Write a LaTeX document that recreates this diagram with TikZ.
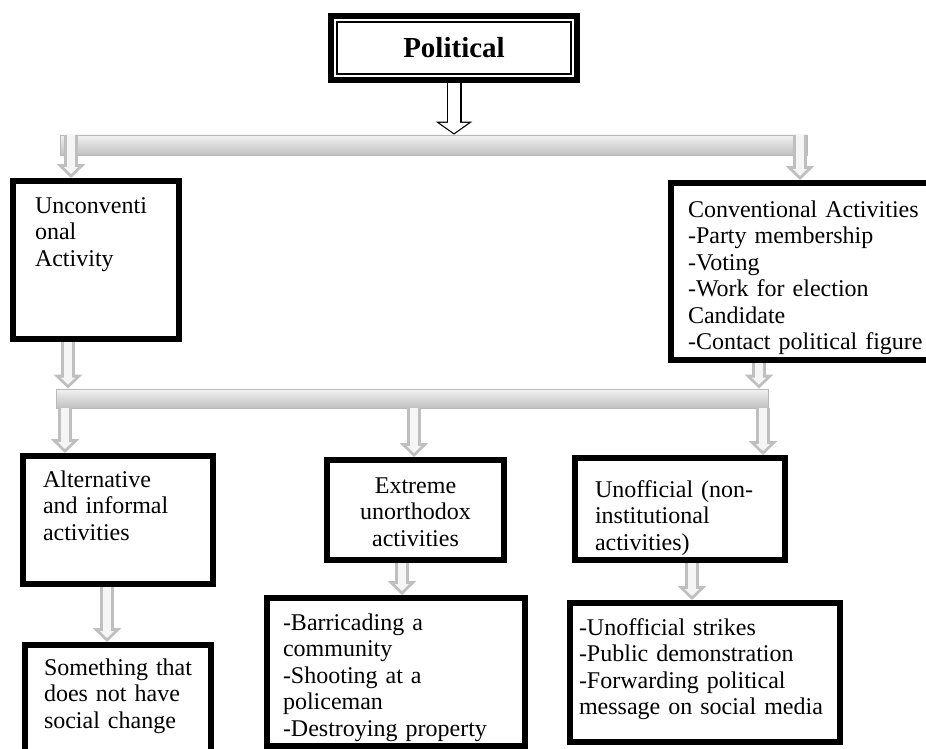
\documentclass[tikz,border=0pt]{standalone}
\usepackage{fontspec}
\setmainfont{Liberation Serif}
\usetikzlibrary{arrows.meta, positioning}

\begin{document}
\begin{tikzpicture}[x=1pt, y=-1pt]

	\tikzset{
		titlebox/.style={
				draw=black, fill=white, line width=1.5pt, inner sep=0pt, minimum width=234pt, minimum height=52pt,
				preaction={draw=black, line width=17.5pt}, preaction={draw=white, line width=5.5pt},
				font=\fontsize{29}{32}\selectfont\bfseries
			},
		box/.style={
				draw=black, fill=white, line width=6pt, anchor=north west, inner ysep=0pt, align=left,
				font=\fontsize{24}{26.5}\selectfont
			},
		bar/.style={
				draw=gray!55, line width=0.8pt, top color=gray!10, bottom color=gray!50, inner sep=0pt, minimum height=20pt
			},
		garrow/.style={
				line width=14pt, draw=gray!50, -{Triangle[length=14pt, width=28pt]},
				postaction={draw=gray!8, line width=8pt, shorten >=4pt, -{Triangle[length=7pt, width=14pt]}}
			},
		hollow/.style={
				line width=15pt, draw=black, -{Triangle[length=13pt, width=36pt]},
				postaction={draw=white, line width=12.6pt, shorten >=1.5pt, -{Triangle[length=10.3pt, width=28.5pt]}}
			},
	}

	\useasboundingbox (0,0) rectangle (926,749);

	\node[titlebox] (pol) at (454,48) {Political};

	\node[bar, minimum width=747pt] (b1) at (433.5,145) {};
	\node[bar, minimum width=712pt, minimum height=19pt] (b2) at (412,398.5) {};

	\node[box, text width=122pt, inner xsep=22pt, text height=32pt, text depth=126pt] (u1) at (10,178) {Unconventi\\onal\\Activity};
	\node[box, text width=240pt, inner xsep=17pt, text height=34pt, text depth=143pt] (c1) at (668,180) {Conventional Activities\\-Party membership\\-Voting\\-Work for election\\Candidate\\-Contact political figure};

	\node[box, text width=150pt, inner xsep=20pt, text height=31pt, text depth=97pt] (a1) at (20,453) {Alternative\\and informal\\activities};
	\node[box, align=center, text width=161pt, inner xsep=8pt, text height=33pt, text depth=67pt] (e1) at (324,457) {Extreme\\unorthodox\\activities};
	\node[box, text width=170pt, inner xsep=20pt, text height=39pt, text depth=63pt] (o1) at (572,455) {Unofficial (non-\\institutional\\activities)};

	\node[box, text width=148pt, inner xsep=19pt, text height=30pt, text depth=120pt] (s1) at (22,642) {Something that\\does not have\\social change};
	\node[box, text width=226pt, inner xsep=16pt, text height=32pt, text depth=116pt] (r1) at (264,595) {-Barricading a\\community\\-Shooting at a\\policeman\\-Destroying property};
	\node[box, text width=252pt, inner xsep=9pt, text height=32pt, text depth=107pt] (q1) at (567,600) {-Unofficial strikes\\-Public demonstration\\-Forwarding political\\message on social media};

	% x positions of the block arrows
	\coordinate (x1) at (71,0);
	\coordinate (x2) at (800,0);
	\coordinate (x3) at (68,0);
	\coordinate (x4) at (759,0);
	\coordinate (x5) at (65,0);
	\coordinate (x6) at (414,0);
	\coordinate (x7) at (763,0);
	\coordinate (x8) at (107,0);
	\coordinate (x9) at (402,0);
	\coordinate (x10) at (692,0);

	\draw[hollow] ([yshift=-8pt]pol.south) -- (pol.south |- b1.north);

	\draw[garrow] (x1 |- b1.north) -- (x1 |- u1.north);
	\draw[garrow] (x2 |- b1.north) -- (x2 |- c1.north);

	\draw[garrow] (x3 |- u1.south) -- (x3 |- b2.north);
	\draw[garrow] (x4 |- c1.south) -- (x4 |- b2.north);

	\draw[garrow] (x5 |- b2.south) -- (x5 |- a1.north);
	\draw[garrow] (x6 |- b2.south) -- (x6 |- e1.north);
	\draw[garrow] (x7 |- b2.south) -- (x7 |- o1.north);

	\draw[garrow] (x8 |- a1.south) -- (x8 |- s1.north);
	\draw[garrow] (x9 |- e1.south) -- (x9 |- r1.north);
	\draw[garrow] (x10 |- o1.south) -- (x10 |- q1.north);

\end{tikzpicture}
\end{document}
